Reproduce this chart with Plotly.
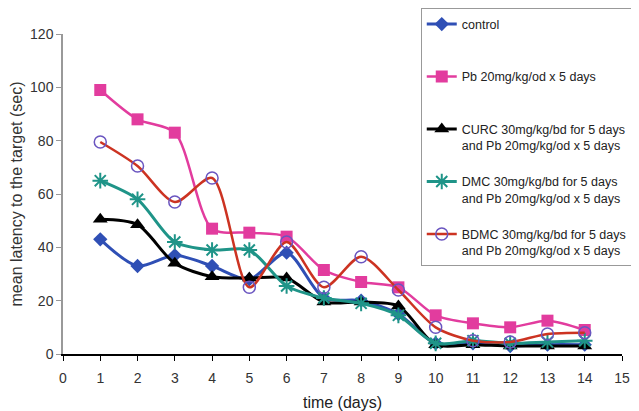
import plotly.graph_objects as go

days = list(range(1, 15))
control = [43, 33, 37, 33, 28, 38, 21, 20, 15, 4, 4, 3, 3.5, 3.5]
pb = [99, 88, 83, 47, 45.5, 44, 31.5, 27, 25, 14.5, 11.5, 10, 12.5, 9]
curc = [50.5, 48.5, 34, 29, 28.5, 28.5, 19.5, 19.5, 18, 3.5, 3.5, 3, 3, 3]
dmc = [65, 58, 42, 39, 39, 25.5, 21, 19, 14.5, 4, 5, 4, 4.5, 5]
bdmc = [79.5, 70.5, 57, 66, 25, 42, 25, 36.5, 24, 10, 5, 4.5, 7.5, 8]

names = [
    "control<br> ",
    "Pb 20mg/kg/od x 5 days<br> ",
    "CURC 30mg/kg/bd for 5 days<br>and Pb 20mg/kg/od x 5 days",
    "DMC 30mg/kg/bd for 5 days<br>and Pb 20mg/kg/od x 5 days",
    "BDMC 30mg/kg/bd for 5 days<br>and Pb 20mg/kg/od x 5 days",
]

fig = go.Figure()
styles = [
    (control, "#2f4fb5", dict(symbol="diamond", size=11, color="#2f4fb5"), 3),
    (pb, "#e23c9e", dict(symbol="square", size=12, color="#e23c9e"), 2.5),
    (curc, "#000000", dict(symbol="triangle-up", size=13, color="#000000"), 3),
    (dmc, "#1f9488", dict(symbol="asterisk-open", size=13, color="#1f9488", line=dict(width=2, color="#1f9488")), 3),
    (bdmc, "#cc3322", dict(symbol="circle-open", size=12, color="#6a55c0", line=dict(width=1.5, color="#6a55c0")), 2.5),
]
for i, (vals, col, mk, w) in enumerate(styles):
    fig.add_trace(go.Scatter(
        x=days, y=vals, name=names[i], mode="lines+markers",
        line=dict(color=col, width=w, shape="spline", smoothing=0.8),
        marker=mk, legendgroup=str(i),
    ))

font = "Liberation Sans, Arial"
fig.update_layout(
    width=631, height=403,
    margin=dict(l=55, r=17, t=26, b=57, autoexpand=False),
    paper_bgcolor="white", plot_bgcolor="white",
    font=dict(family=font, size=13, color="#333333"),
    showlegend=True,
    legend=dict(
        x=0.64, y=1.08, xanchor="left", yanchor="top",
        bordercolor="#999999", borderwidth=1, bgcolor="white",
        font=dict(family=font, size=12.5, color="#222222"),
        tracegroupgap=17, valign="top", traceorder="grouped",
        maxheight=400,
    ),
    xaxis=dict(
        range=[0, 15], dtick=1, tick0=0, showgrid=False, zeroline=False,
        showline=True, linecolor="#000000", linewidth=1.5,
        ticks="outside", ticklen=5, tickcolor="#000000", automargin=False,
        ticklabelstandoff=5,
        title=dict(text="time (days)", font=dict(size=16, color="#222222"), standoff=14),
        tickfont=dict(size=14, color="#333333"),
    ),
    yaxis=dict(
        range=[0, 120], dtick=20, showgrid=False, zeroline=False,
        showline=True, linecolor="#999999", linewidth=1.5,
        ticks="outside", ticklen=5, tickcolor="#999999", automargin=False,
        title=dict(text="mean latency to the target (sec)", font=dict(size=16, color="#333333"), standoff=8),
        tickfont=dict(size=14, color="#333333"),
    ),
)
fig.write_html("out.html")
